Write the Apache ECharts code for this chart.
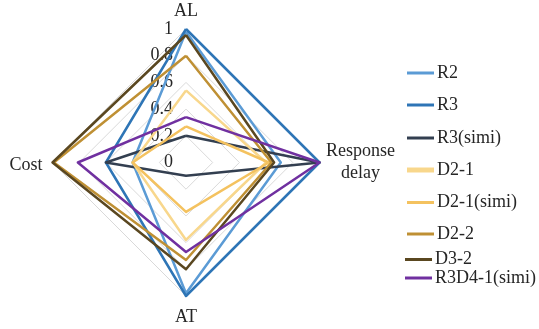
<!DOCTYPE html>
<html><head><meta charset="utf-8">
<script src="https://cdn.jsdelivr.net/npm/echarts@6/dist/echarts.min.js"></script>
<style>html,body{margin:0;padding:0;background:#fff}#c{width:539px;height:329px}</style>
</head><body><div id="c"></div>
<script>
// Indicators (order for ECharts counter-clockwise layout: top, left, bottom, right)
const indicatorNames = ['AL', 'Cost', 'AT', 'Response delay'];
const seriesNames = ['R2', 'R3', 'R3(simi)', 'D2-1', 'D2-1(simi)', 'D2-2', 'D3-2', 'R3D4-1(simi)'];
// values in order [AL, Cost, AT, Response delay]
const R2       = [0.98, 0.40, 0.98, 0.71];
const R3       = [1.00, 0.60, 1.00, 1.00];
const R3simi   = [0.20, 0.60, 0.10, 1.00];
const D2_1     = [0.54, 0.40, 0.58, 0.60];
const D2_1simi = [0.27, 0.40, 0.37, 0.62];
const D2_2     = [0.80, 0.99, 0.73, 0.64];
const D3_2     = [0.955, 1.00, 0.80, 0.66];
const R3D4_1simi = [0.34, 0.81, 0.67, 1.00];
const tickLabels = ['0', '0.2', '0.4', '0.6', '0.8', '1'];

const values = [R2, R3, R3simi, D2_1, D2_1simi, D2_2, D3_2, R3D4_1simi];
const colors = ['#5B9BD5', '#2E75B6', '#333F50', '#F8D78C', '#F4C25F', '#BF9034', '#5A4720', '#7030A0'];
const legendTops = [73, 105, 138, 170, 202.5, 234, 259.5, 278];
const legendLefts = [407, 407, 407, 407, 407, 407, 405, 405];
const font = 'Liberation Serif';

const chart = echarts.init(document.getElementById('c'), null, {renderer: 'canvas'});
const legends = seriesNames.map((n, i) => ({
  data: [n], left: legendLefts[i], top: legendTops[i] - 9, orient: 'vertical',
  padding: 0, itemGap: 0, itemWidth: 27, itemHeight: i === 3 ? 5 : 3, icon: 'rect',
  textStyle: {fontFamily: font, fontSize: 18, color: '#262626', padding: [0, 0, 0, -2]},
  selectedMode: false
}));
const nameFmt = n => {
  if (n === 'Response delay') return '{a|Response}\n{a|delay}';
  if (n === 'AT') return '{b|AT}';
  if (n === 'Cost') return '{d|Cost}';
  return n;
};
const baseText = {fontFamily: font, fontSize: 18, color: '#262626'};
chart.setOption({
  animation: false,
  legend: legends,
  radar: {
    center: [186, 162.5], radius: 133.5, startAngle: 90, shape: 'polygon', splitNumber: 5,
    indicator: indicatorNames.map((n, i) => {
      const o = {name: n, min: 0, max: 1};
      if (i === 0) o.axisLabel = {show: true, fontFamily: font, fontSize: 18, color: '#262626', margin: 13,
        formatter: v => tickLabels[Math.round(v * 5)]};
      return o;
    }),
    nameGap: 5,
    axisName: {
      fontFamily: font, fontSize: 18, color: '#262626',
      formatter: nameFmt,
      rich: {
        a: Object.assign({width: 66, align: 'center', lineHeight: 22, padding: [0, 0, 0, 3]}, baseText),
        b: Object.assign({padding: [7, 0, 0, 0]}, baseText),
        d: Object.assign({padding: [6, 5, 0, 0]}, baseText)
      }
    },
    axisLine: {show: false},
    axisTick: {show: false},
    axisLabel: {show: false},
    splitLine: {lineStyle: {color: '#D9D9D9', width: 1}},
    splitArea: {show: false}
  },
  series: [{
    type: 'radar', symbol: 'none',
    data: values.map((v, i) => ({
      name: seriesNames[i], value: v,
      lineStyle: {color: colors[i], width: 2.5}, itemStyle: {color: colors[i]}
    }))
  }]
});
</script></body></html>
